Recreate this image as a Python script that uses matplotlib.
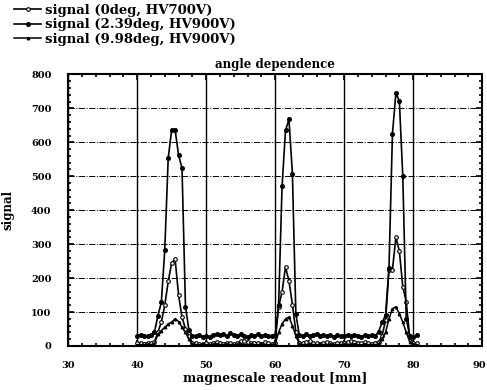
import matplotlib
matplotlib.use("Agg")
import matplotlib.pyplot as plt
from matplotlib.ticker import MultipleLocator
import numpy as np

plt.rcParams['font.family'] = ['DejaVu Serif', 'Liberation Serif']
plt.rcParams['font.weight'] = 'bold'

# readout position [mm], 0.5 mm steps
x = np.arange(40.0, 80.51, 0.5)

# 2.39deg, HV900V (tallest peaks)
sig_239 = [30, 32, 28, 30, 31, 40, 89, 128, 283, 554, 637, 637, 562, 524, 116, 47,
           30, 28, 32, 27, 30, 26, 33, 35, 31, 34, 30, 38, 32, 28, 34, 30, 27, 32,
           30, 35, 29, 31, 28, 30, 32, 120, 470, 635, 668, 508, 95, 32, 30, 34, 28,
           31, 35, 29, 32, 30, 33, 27, 31, 29, 30, 32, 28, 33, 30, 27, 31, 29, 33,
           30, 42, 70, 90, 230, 625, 745, 722, 500, 80, 30, 25, 32]
# 0deg, HV700V
sig_0 = [8, 10, 7, 9, 8, 12, 40, 70, 120, 190, 245, 255, 150, 85, 50, 30,
         10, 8, 5, 7, 9, 6, 8, 12, 9, 7, 10, 8, 6, 9, 14, 16, 12, 8,
         10, 9, 7, 11, 8, 6, 10, 115, 160, 232, 192, 122, 42, 10, 8, 12, 15,
         10, 8, 7, 9, 11, 8, 6, 9, 10, 8, 12, 16, 13, 10, 8, 11, 9, 7,
         10, 12, 30, 75, 225, 225, 320, 280, 175, 130, 25, 10, 8]
# 9.98deg, HV900V
sig_998 = [3, 4, 3, 5, 4, 6, 35, 45, 55, 65, 70, 80, 72, 55, 40, 20,
           6, 4, 3, 5, 4, 3, 5, 6, 4, 3, 5, 4, 3, 5, 6, 4, 3, 5,
           4, 3, 5, 4, 3, 4, 5, 40, 65, 80, 85, 60, 30, 6, 4, 3, 5,
           4, 3, 5, 4, 3, 5, 4, 3, 4, 5, 4, 3, 5, 4, 3, 5, 4, 3,
           4, 5, 20, 40, 80, 110, 115, 95, 70, 40, 12, 5, 4]

xticks = [30, 40, 50, 60, 70, 80, 90]

fig = plt.figure(figsize=(4.87, 3.90), dpi=100)
ax = fig.add_axes([0.140, 0.113, 0.850, 0.696])

l0, = ax.plot(x, sig_0, color='black', lw=1.2, marker='o', ms=2.6,
              mfc='white', mec='black', mew=0.8)
l1, = ax.plot(x, sig_239, color='black', lw=1.2, marker='o', ms=2.6,
              mfc='black', mec='black')
l2, = ax.plot(x, sig_998, color='black', lw=1.1, marker='^', ms=1.8,
              mfc='black', mec='black')

ax.set_xlim(30, 90)
ax.set_ylim(0, 800)
# last label drawn separately so it stays inside the figure
ax.set_xticks(xticks, [str(t) for t in xticks[:-1]] + [''])
ax.annotate(str(xticks[-1]), xy=(xticks[-1], 0), xycoords=('data', 'axes fraction'),
            xytext=(3, -11), textcoords='offset points', ha='right', va='top',
            fontsize=7, fontweight='bold')
ax.xaxis.set_minor_locator(MultipleLocator(2))
ax.yaxis.set_major_locator(MultipleLocator(100))
ax.yaxis.set_minor_locator(MultipleLocator(20))
ax.tick_params(which='both', direction='in', top=True, right=True, width=1.2)
ax.tick_params(which='major', length=4, labelsize=7)
ax.tick_params(axis='x', which='major', pad=11)
ax.tick_params(axis='y', which='major', pad=12)
ax.tick_params(which='minor', length=2.5)
for lab in ax.get_xticklabels() + ax.get_yticklabels():
    lab.set_fontweight('bold')

ax.grid(True, axis='x', color='black', lw=1.0, ls='-')
ax.grid(True, axis='y', color='black', lw=0.7, ls='-.')
for s in ax.spines.values():
    s.set_linewidth(1.5)

ax.set_title('angle dependence', fontsize=8.5, fontweight='bold', pad=5)
ax.set_xlabel('magnescale readout [mm]', fontsize=9, fontweight='bold', labelpad=1)
ax.set_ylabel('signal', fontsize=8.5, fontweight='bold', labelpad=12)

fig.legend([l0, l1, l2],
           ['signal (0deg, HV700V)', 'signal (2.39deg, HV900V)', 'signal (9.98deg, HV900V)'],
           loc='upper left', bbox_to_anchor=(0.005, 1.02), frameon=False,
           handlelength=2.0, handletextpad=0.3, labelspacing=0.1,
           prop={'family': 'DejaVu Serif', 'weight': 'bold', 'size': 9.5})

fig.savefig("out.png", dpi=100)
